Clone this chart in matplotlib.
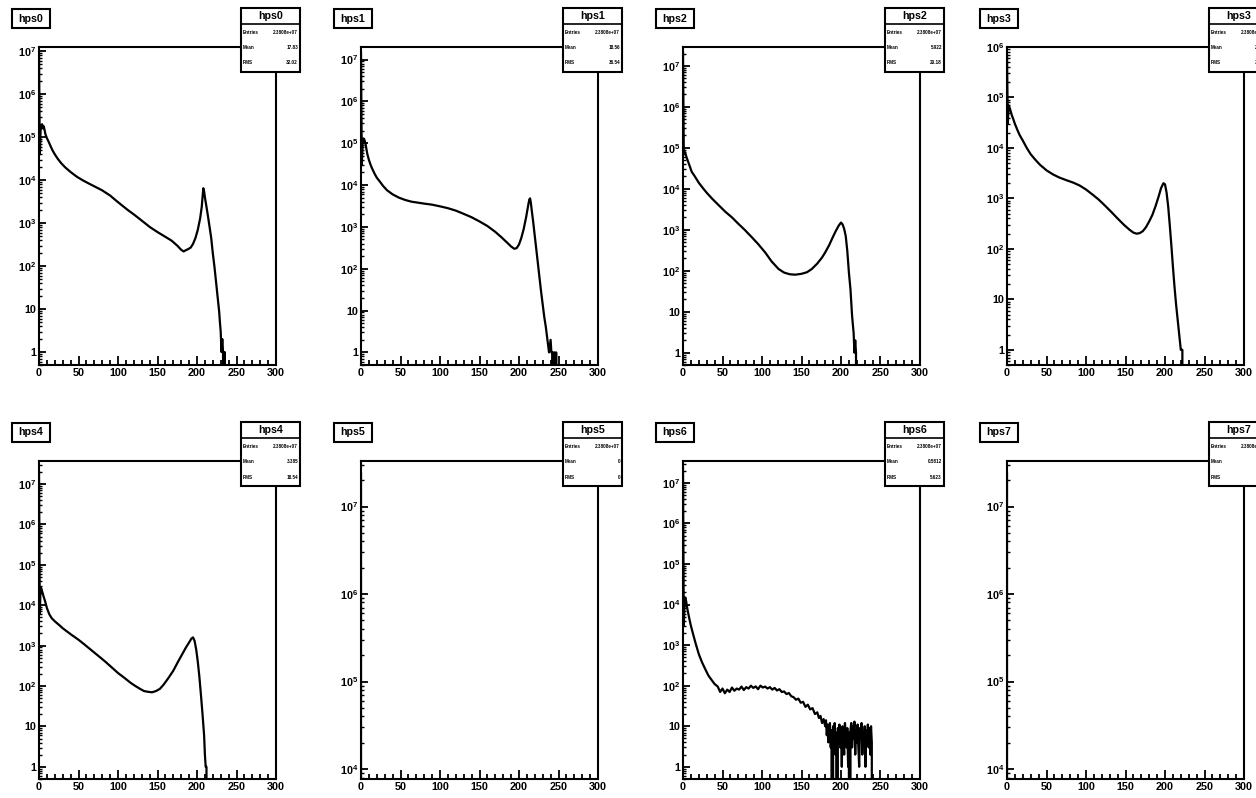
import numpy as np
import matplotlib
matplotlib.use("Agg")
import matplotlib.pyplot as plt
from matplotlib.patches import Rectangle
from matplotlib.ticker import FixedLocator, MultipleLocator, FuncFormatter, NullFormatter

plt.rcParams['font.family'] = ['Liberation Sans', 'DejaVu Sans']
plt.rcParams['font.weight'] = 'bold'
plt.rcParams['mathtext.fontset'] = 'custom'
plt.rcParams['mathtext.rm'] = 'Liberation Sans:bold'
plt.rcParams['mathtext.bf'] = 'Liberation Sans:bold'
plt.rcParams['mathtext.default'] = 'rm'

# ---- data (bin position, content) ----
names = ['hps0', 'hps1', 'hps2', 'hps3', 'hps4', 'hps5', 'hps6', 'hps7']
entries = ['2.3808e+07'] * 8
means = ['17.83', '18.56', '5.922', '25.51', '3.385', '0', '0.5812', '0']
rms = ['32.02', '36.54', '20.18', '39.26', '18.54', '0', '5.623', '0']

x0 = [0, 1, 2, 3, 4, 5, 6, 7, 8, 10, 12, 14, 17, 20, 24, 28, 33, 40, 48, 56, 64,
      72, 80, 90, 98, 105, 112, 120, 130, 140, 150, 160, 168, 175, 180, 183,
      186, 189, 192, 195, 198, 201, 204, 206, 207, 208, 209, 210, 212, 214, 216,
      218, 220, 222, 224, 226, 228, 229, 230, 231, 232, 233, 234, 235, 236]
y0 = [9e6, 4e4, 1.4e5, 1.9e5, 2e5, 1.6e5, 1.8e5, 1.5e5, 1.2e5, 9.5e4, 8e4, 6.6e4,
      5e4, 4e4, 3.1e4, 2.5e4, 2e4, 1.55e4, 1.2e4, 9.8e3, 8.2e3, 6.9e3, 5.8e3,
      4.4e3, 3.3e3, 2.6e3, 2.05e3, 1.6e3, 1.15e3, 820, 620, 480, 390, 300, 240,
      220, 235, 250, 270, 330, 450, 700, 1.3e3, 2.4e3, 4e3, 6.5e3, 5.5e3, 4e3,
      2.4e3, 1.4e3, 800, 450, 200, 100, 45, 20, 9, 5, 3, 1, 2, 1, 0, 1, 0]

x1 = [0, 1, 2, 3, 4, 5, 6, 7, 8, 10, 12, 14, 17, 20, 24, 28, 33, 40, 48, 56, 64,
      72, 80, 90, 100, 110, 120, 130, 140, 150, 160, 170, 178, 185, 190, 194,
      197, 200, 203, 206, 209, 211, 213, 214, 215, 216, 218, 220, 222, 224, 226,
      228, 230, 232, 234, 236, 238, 240, 241, 242, 243, 244, 245, 246, 247, 248]
y1 = [1.4e7, 3e4, 1e5, 1.3e5, 1.25e5, 1.1e5, 9e4, 7e4, 5.5e4, 4e4, 3.1e4, 2.5e4,
      1.9e4, 1.5e4, 1.2e4, 9.5e3, 7.5e3, 6e3, 5e3, 4.4e3, 4e3, 3.8e3, 3.6e3,
      3.4e3, 3.1e3, 2.8e3, 2.45e3, 2.05e3, 1.7e3, 1.35e3, 1.05e3, 760, 560, 420,
      340, 300, 310, 380, 550, 900, 1.7e3, 2.8e3, 4.5e3, 4.8e3, 3.8e3, 2.6e3,
      1.3e3, 600, 280, 130, 60, 28, 14, 7, 4, 2, 1, 2, 1, 1, 0, 1, 1, 0, 1, 0]

x2 = [0, 1, 2, 3, 5, 8, 11, 15, 20, 25, 30, 37, 45, 54, 62, 70, 78, 87, 95, 104,
      112, 121, 128, 135, 142, 150, 157, 163, 170, 176, 180, 185, 189, 193, 197,
      200, 202, 204, 206, 208, 210, 212, 214, 216, 217, 218, 219, 220]
y2 = [2.1e7, 7e4, 8e4, 7.2e4, 5.5e4, 3.8e4, 2.6e4, 2e4, 1.4e4, 1.05e4, 8e3,
      5.7e3, 4e3, 2.7e3, 2e3, 1.4e3, 1e3, 660, 450, 280, 170, 110, 90, 82, 80, 84,
      92, 110, 150, 210, 280, 420, 620, 900, 1.25e3, 1.5e3, 1.35e3, 1.05e3, 700,
      300, 90, 35, 8, 3, 1, 2, 1, 0]

x3 = [0, 1, 2, 3, 4, 6, 8, 10, 13, 16, 20, 25, 30, 36, 42, 50, 58, 66, 75, 84,
      92, 100, 108, 116, 124, 132, 140, 148, 155, 160, 164, 168, 172, 176, 180,
      184, 188, 192, 195, 198, 200, 202, 204, 206, 208, 210, 212, 214, 216, 218,
      220, 221, 222, 223]
y3 = [7e5, 3e4, 7e4, 6.5e4, 5.8e4, 4.5e4, 3.7e4, 3e4, 2.3e4, 1.8e4, 1.4e4, 1e4,
      7.5e3, 5.8e3, 4.6e3, 3.6e3, 3e3, 2.6e3, 2.3e3, 2.05e3, 1.8e3, 1.5e3,
      1.2e3, 950, 720, 540, 400, 300, 240, 210, 200, 205, 225, 270, 350, 470,
      700, 1.1e3, 1.6e3, 2e3, 1.9e3, 1.3e3, 700, 300, 120, 45, 18, 8, 4, 2, 1,
      1, 1, 0]

x4 = [0, 1, 2, 3, 4, 6, 8, 10, 13, 16, 20, 25, 30, 36, 42, 50, 58, 66, 75, 84,
      92, 100, 108, 116, 122, 128, 133, 138, 143, 148, 153, 158, 164, 170, 176,
      182, 186, 190, 193, 195, 197, 199, 201, 203, 205, 207, 209, 210, 211, 212,
      213]
y4 = [2e7, 6e3, 2.8e4, 2.6e4, 2.2e4, 1.6e4, 1.2e4, 8.5e3, 6e3, 4.8e3, 4e3,
      3.3e3, 2.7e3, 2.2e3, 1.8e3, 1.4e3, 1.05e3, 780, 560, 400, 290, 210, 160,
      120, 100, 85, 75, 72, 70, 75, 85, 110, 160, 240, 400, 650, 900, 1.2e3,
      1.5e3, 1.6e3, 1.3e3, 800, 400, 170, 60, 20, 6, 2, 1, 1, 0]

x5 = [0, 1]
y5 = [2.38e7, 0]

x6 = [0, 1, 2, 3, 4, 5, 6, 8, 10, 13, 16, 20, 24, 28, 32, 36, 40, 44, 47, 50, 53,
      56, 59, 62, 65, 68, 71, 74, 77, 80, 83, 86, 89, 92, 95, 98, 101, 104, 107,
      110, 113, 116, 119, 122, 125, 128, 131, 134, 137, 140, 143, 146, 149, 152,
      155, 158, 161, 164, 167, 170, 172, 174, 176, 178, 180, 181, 182, 183, 184,
      185, 186, 187, 188, 189, 190, 191, 192, 193, 194, 195, 196, 197, 198, 199,
      200, 201, 202, 203, 204, 205, 206, 207, 208, 209, 210, 211, 212, 213, 214,
      215, 216, 217, 218, 219, 220, 221, 222, 223, 224, 225, 226, 227, 228, 229,
      230, 231, 232, 233, 234, 235, 236, 237, 238, 239, 240]
y6 = [2.3e7, 3e3, 1.3e4, 1.5e4, 1.2e4, 9e3, 7e3, 4.5e3, 3e3, 1.8e3, 1.1e3, 600,
      380, 260, 180, 140, 110, 95, 70, 85, 65, 80, 70, 90, 75, 85, 80, 95, 78,
      92, 85, 100, 88, 96, 82, 100, 90, 95, 85, 92, 80, 88, 76, 82, 70, 72, 62,
      66, 55, 52, 45, 48, 38, 40, 30, 34, 26, 28, 20, 22, 16, 18, 12, 15, 10,
      14, 6, 11, 4, 9, 12, 3, 8, 0, 10, 5, 12, 2, 7, 0, 9, 4, 11, 3, 8,
      1, 10, 5, 2, 12, 6, 3, 9, 1, 7, 0, 8, 12, 3, 10, 5, 13, 2, 8, 4,
      11, 3, 1, 9, 6, 12, 2, 7, 4, 10, 1, 8, 5, 11, 3, 9, 2, 10, 4, 0]

hists = {0: (x0, y0), 1: (x1, y1), 2: (x2, y2), 3: (x3, y3), 4: (x4, y4),
         5: (x5, y5), 6: (x6, y6), 7: (x5, y5)}
ylims = [(0.5, 10**7.1), (0.5, 10**7.3), (0.5, 10**7.46), (0.5, 10**6.0),
         (0.5, 10**7.57), (10**3.886, 10**7.52), (0.5, 10**7.54), (10**3.886, 10**7.52)]

W, H = 1256, 798
col_off = [0, 322, 644, 968]
row_off = [0, 414]

fig = plt.figure(figsize=(W / 100, H / 100), dpi=100)
fig.patch.set_facecolor('white')


def frac(x, y, w, h):
    return [x / W, 1 - (y + h) / H, w / W, h / H]


def box(x, y, w, h, lw=1.5):
    r = Rectangle((x / W, 1 - (y + h) / H), w / W, h / H, transform=fig.transFigure,
                  facecolor='white', edgecolor='black', linewidth=lw, zorder=10)
    fig.patches.append(r)


def root_log(v, pos):
    e = int(round(np.log10(v)))
    if e == 0:
        return '1'
    if e == 1:
        return '10'
    return r'$10^{%d}$' % e


for k in range(8):
    r, c = divmod(k, 4)
    ox, oy = col_off[c], row_off[r]
    ax = fig.add_axes(frac(ox + 39, oy + 47, 237, 318))
    ax.set_yscale('log', nonpositive='clip')
    ax.set_xlim(0, 300)
    ax.set_ylim(*ylims[k])
    hx, hy = hists[k]
    ax.plot(hx, hy, color='black', lw=1.6, solid_joinstyle='round')
    for s in ax.spines.values():
        s.set_linewidth(1.5)
    ax.xaxis.set_major_locator(MultipleLocator(50))
    ax.xaxis.set_minor_locator(MultipleLocator(10))
    lo, hi = ylims[k]
    # only decades inside the range get a labelled tick
    decs = np.arange(np.ceil(np.log10(lo)), np.floor(np.log10(hi)) + 1)
    mdecs = np.arange(np.floor(np.log10(lo)), np.floor(np.log10(hi)) + 1)
    minors = [m * 10.0 ** d for d in mdecs for m in range(2, 10)]
    ax.yaxis.set_major_locator(FixedLocator(10.0 ** decs))
    ax.yaxis.set_minor_locator(FixedLocator([v for v in minors if lo <= v <= hi]))
    ax.yaxis.set_major_formatter(FuncFormatter(root_log))
    ax.yaxis.set_minor_formatter(NullFormatter())
    ax.tick_params(axis='x', which='major', direction='in', length=6.5, width=1.3,
                   labelsize=7.8, pad=2, top=False)
    ax.tick_params(axis='x', which='minor', direction='in', length=3.5, width=1.3, top=False)
    ax.tick_params(axis='y', which='major', direction='in', length=5, width=1.3,
                   labelsize=7.8, pad=2, right=False)
    ax.tick_params(axis='y', which='minor', direction='in', length=2.5, width=1.0, right=False)
    for t in ax.get_xticklabels() + ax.get_yticklabels():
        t.set_fontweight('bold')

    # title box
    box(ox + 12, oy + 9, 38, 19)
    fig.text((ox + 31) / W, 1 - (oy + 18.5) / H, names[k], ha='center', va='center',
             fontsize=7.7, fontweight='bold', zorder=11)
    # stats box
    box(ox + 241, oy + 8, 59, 64)
    fig.lines.append(plt.Line2D([(ox + 241) / W, (ox + 300) / W],
                                [1 - (oy + 24) / H, 1 - (oy + 24) / H],
                                transform=fig.transFigure, color='black', lw=1.2, zorder=11))
    fig.text((ox + 270.5) / W, 1 - (oy + 16) / H, names[k], ha='center', va='center',
             fontsize=7.7, fontweight='bold', zorder=11)
    rows = [('Entries', entries[k]), ('Mean', means[k]), ('RMS', rms[k])]
    for i, (lab, val) in enumerate(rows):
        yy = 1 - (oy + 32 + 15.5 * i) / H
        fig.text((ox + 243) / W, yy, lab, ha='left', va='center', fontsize=3.3,
                 fontweight='bold', zorder=11)
        fig.text((ox + 298) / W, yy, val, ha='right', va='center', fontsize=3.3,
                 fontweight='bold', zorder=11)

fig.savefig('out.png', dpi=100, facecolor='white')
